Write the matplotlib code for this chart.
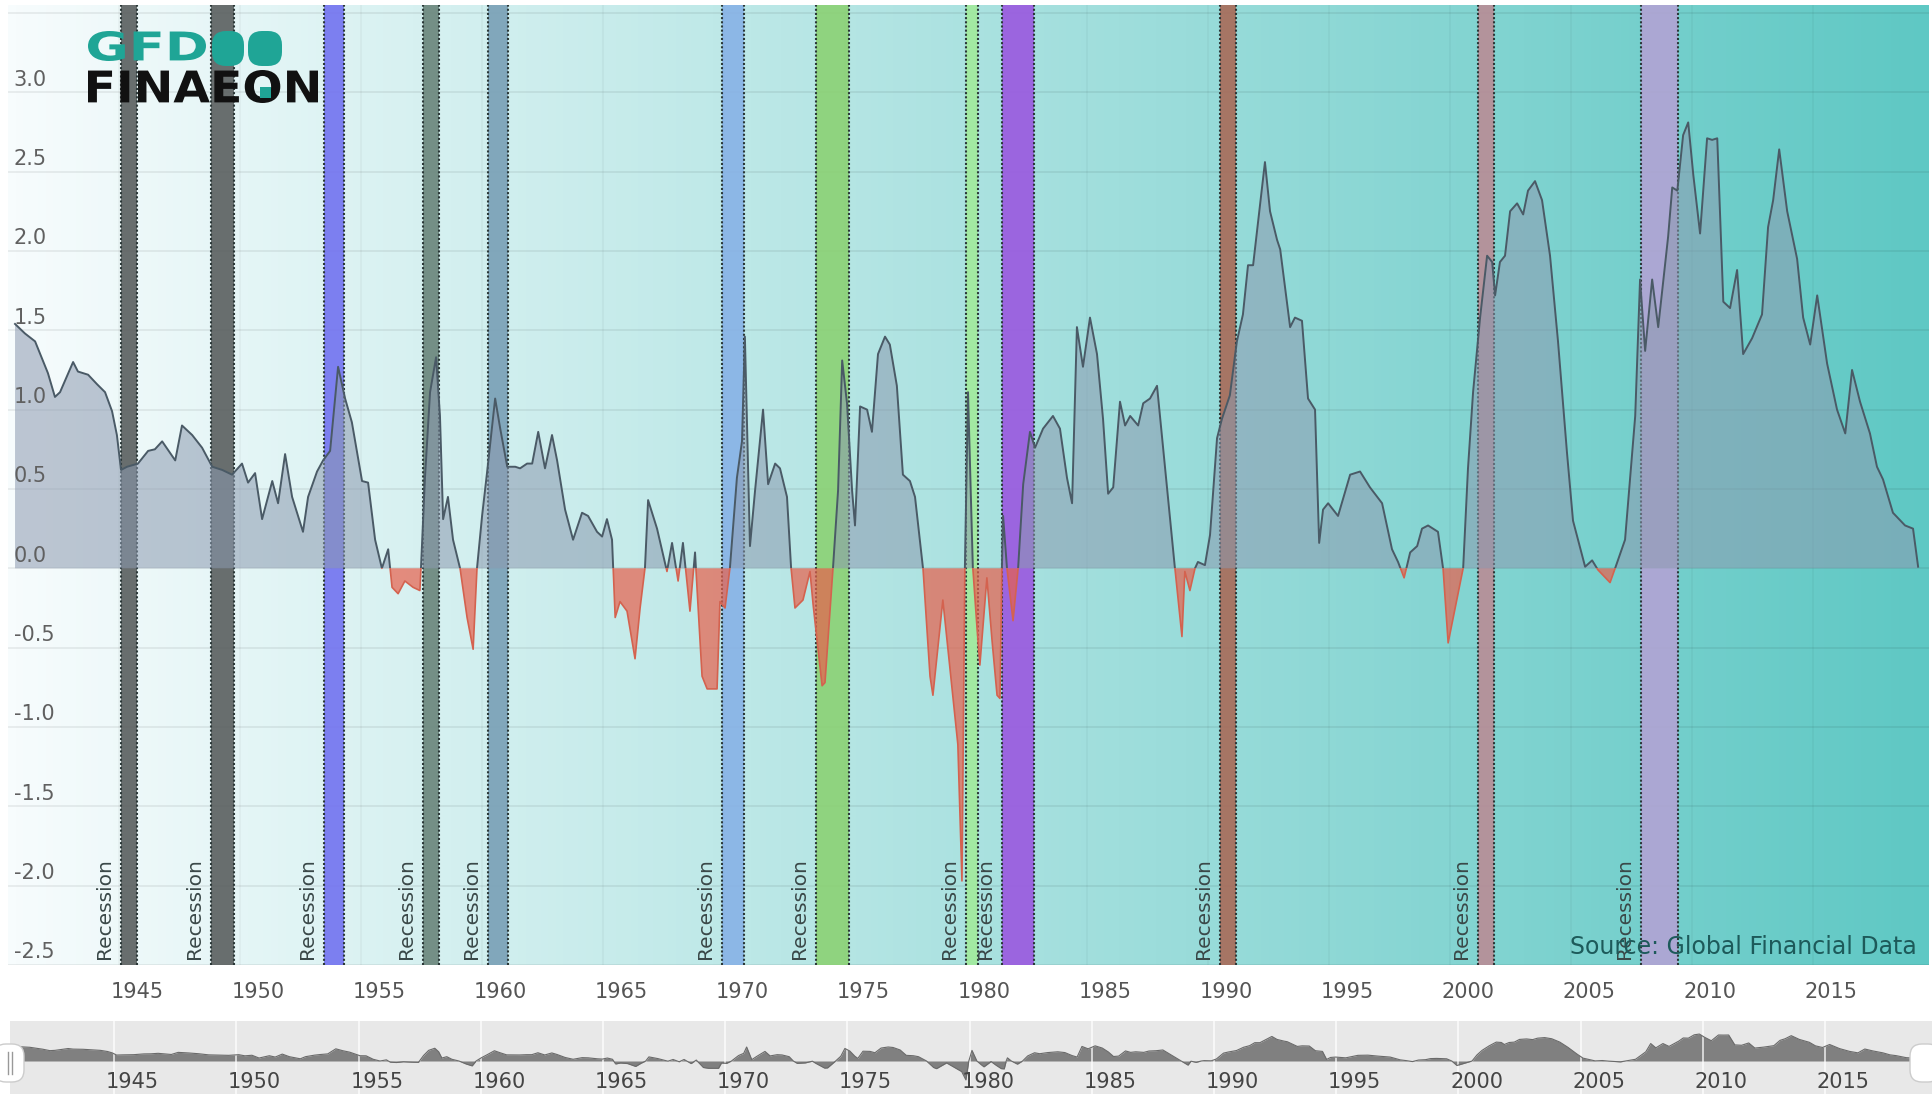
import numpy as np
import matplotlib.pyplot as plt
from matplotlib.colors import LinearSegmentedColormap
from matplotlib.patches import Rectangle, FancyBboxPatch, PathPatch
from matplotlib.textpath import TextPath
from matplotlib.font_manager import FontProperties
from matplotlib.transforms import Affine2D, blended_transform_factory

W, H = 1933, 1094
NARROW = ['Liberation Sans Narrow', 'DejaVu Sans']

# yield spread (decimal year, value)
years = [
    1940.72, 1941.13, 1941.55, 1942.08, 1942.37, 1942.58, 1943.12, 1943.32, 1943.74, 1944.11,
    1944.44, 1944.73, 1944.93, 1945.10, 1945.35, 1945.80, 1946.22, 1946.50, 1946.80, 1947.34,
    1947.62, 1948.04, 1948.45, 1948.87, 1949.28, 1949.69, 1950.10, 1950.35, 1950.64, 1950.93,
    1951.35, 1951.59, 1951.88, 1952.17, 1952.62, 1952.83, 1953.20, 1953.45, 1953.74, 1954.07,
    1954.36, 1954.64, 1955.06, 1955.31, 1955.60, 1955.88, 1956.14, 1956.30, 1956.55, 1956.83,
    1957.17, 1957.45, 1957.50, 1957.66, 1957.87, 1958.12, 1958.28, 1958.41, 1958.61, 1958.82,
    1959.11, 1959.40, 1959.65, 1959.81, 1960.02, 1960.23, 1960.56, 1960.77, 1961.06, 1961.39,
    1961.59, 1961.88, 1962.09, 1962.34, 1962.62, 1962.91, 1963.12, 1963.45, 1963.78, 1964.15,
    1964.40, 1964.77, 1964.98, 1965.18, 1965.39, 1965.52, 1965.72, 1966.01, 1966.34, 1966.55,
    1966.75, 1966.88, 1967.25, 1967.66, 1967.87, 1968.12, 1968.32, 1968.61, 1968.82, 1968.90,
    1969.11, 1969.32, 1969.73, 1969.85, 1970.06, 1970.26, 1970.55, 1970.76, 1970.88, 1971.09,
    1971.30, 1971.63, 1971.84, 1972.13, 1972.33, 1972.62, 1972.79, 1972.95, 1973.28, 1973.57,
    1973.70, 1974.07, 1974.19, 1974.52, 1974.73, 1974.90, 1975.10, 1975.31, 1975.43, 1975.64,
    1975.93, 1976.13, 1976.38, 1976.67, 1976.87, 1977.16, 1977.41, 1977.70, 1977.91, 1978.24,
    1978.53, 1978.65, 1979.06, 1979.48, 1979.68, 1979.85, 1979.97, 1980.10, 1980.30, 1980.47,
    1980.59, 1980.88, 1981.09, 1981.30, 1981.42, 1981.50, 1981.55, 1981.71, 1981.96, 1982.17,
    1982.38, 1982.66, 1982.87, 1983.20, 1983.61, 1983.90, 1984.19, 1984.40, 1984.60, 1984.85,
    1985.14, 1985.43, 1985.68, 1985.89, 1986.10, 1986.38, 1986.59, 1986.80, 1987.13, 1987.34,
    1987.62, 1987.91, 1988.24, 1988.65, 1988.94, 1989.06, 1989.27, 1989.48, 1989.60, 1989.89,
    1990.10, 1990.39, 1990.59, 1990.92, 1991.21, 1991.46, 1991.67, 1991.88, 1992.25, 1992.37,
    1992.58, 1992.87, 1993.00, 1993.41, 1993.61, 1993.90, 1994.15, 1994.44, 1994.61, 1994.77,
    1994.98, 1995.39, 1995.89, 1996.30, 1996.71, 1997.21, 1997.62, 1997.87, 1998.12, 1998.37,
    1998.66, 1998.86, 1999.11, 1999.52, 1999.73, 1999.94, 2000.56, 2000.76, 2000.97, 2001.26,
    2001.55, 2001.76, 2001.88, 2002.08, 2002.29, 2002.50, 2002.79, 2003.04, 2003.24, 2003.53,
    2003.82, 2004.15, 2004.48, 2004.85, 2005.10, 2005.60, 2005.89, 2006.13, 2006.63, 2006.84,
    2007.25, 2007.67, 2007.87, 2008.08, 2008.37, 2008.62, 2009.03, 2009.20, 2009.41, 2009.65,
    2009.86, 2010.07, 2010.35, 2010.64, 2010.85, 2011.06, 2011.31, 2011.59, 2011.88, 2012.13,
    2012.50, 2012.91, 2013.16, 2013.37, 2013.62, 2013.95, 2014.36, 2014.61, 2014.90, 2015.19,
    2015.60, 2016.01, 2016.35, 2016.63, 2016.96, 2017.37, 2017.66, 2017.91, 2018.32, 2018.82,
    2019.15, 2019.36,
]
spread = [
    1.54, 1.48, 1.43, 1.23, 1.08, 1.11, 1.30, 1.24, 1.22, 1.16,
    1.11, 0.99, 0.84, 0.62, 0.64, 0.66, 0.74, 0.75, 0.80, 0.68,
    0.90, 0.84, 0.76, 0.64, 0.62, 0.59, 0.66, 0.54, 0.60, 0.31,
    0.55, 0.41, 0.72, 0.45, 0.23, 0.45, 0.61, 0.68, 0.74, 1.27,
    1.07, 0.92, 0.55, 0.54, 0.18, 0.00, 0.12, -0.12, -0.16, -0.08,
    -0.12, -0.14, 0.02, 0.57, 1.11, 1.33, 0.96, 0.31, 0.45, 0.18,
    0.00, -0.31, -0.51, 0.00, 0.33, 0.61, 1.07, 0.88, 0.64, 0.64,
    0.63, 0.66, 0.66, 0.86, 0.63, 0.84, 0.68, 0.37, 0.18, 0.35,
    0.33, 0.23, 0.20, 0.31, 0.18, -0.31, -0.21, -0.27, -0.57, -0.25,
    0.00, 0.43, 0.25, -0.02, 0.16, -0.08, 0.16, -0.27, 0.10, -0.12,
    -0.68, -0.76, -0.76, -0.21, -0.25, 0.00, 0.57, 0.80, 1.46, 0.14,
    0.49, 1.00, 0.53, 0.66, 0.63, 0.45, 0.00, -0.25, -0.20, -0.02,
    -0.23, -0.74, -0.72, 0.00, 0.49, 1.31, 1.04, 0.49, 0.27, 1.02,
    1.00, 0.86, 1.35, 1.46, 1.41, 1.15, 0.59, 0.55, 0.45, 0.00,
    -0.68, -0.80, -0.20, -0.82, -1.11, -1.97, 0.00, 1.11, 0.00, -0.37,
    -0.61, -0.06, -0.45, -0.80, -0.82, 0.00, 0.33, 0.00, -0.33, 0.00,
    0.53, 0.86, 0.76, 0.88, 0.96, 0.88, 0.57, 0.41, 1.52, 1.27,
    1.58, 1.35, 0.94, 0.47, 0.51, 1.05, 0.90, 0.96, 0.90, 1.04,
    1.07, 1.15, 0.64, 0.00, -0.43, -0.02, -0.14, 0.00, 0.04, 0.02,
    0.21, 0.82, 0.94, 1.09, 1.43, 1.60, 1.91, 1.91, 2.40, 2.56,
    2.25, 2.07, 2.01, 1.52, 1.58, 1.56, 1.07, 1.00, 0.16, 0.37,
    0.41, 0.33, 0.59, 0.61, 0.51, 0.41, 0.12, 0.04, -0.06, 0.10,
    0.14, 0.25, 0.27, 0.23, 0.00, -0.47, 0.00, 0.63, 1.11, 1.58,
    1.97, 1.93, 1.72, 1.93, 1.97, 2.25, 2.30, 2.23, 2.38, 2.44,
    2.32, 1.97, 1.43, 0.73, 0.30, 0.01, 0.05, -0.01, -0.09, 0.00,
    0.18, 0.96, 1.82, 1.37, 1.82, 1.52, 2.09, 2.40, 2.38, 2.73,
    2.81, 2.48, 2.11, 2.71, 2.70, 2.71, 1.68, 1.64, 1.88, 1.35,
    1.45, 1.60, 2.15, 2.32, 2.64, 2.25, 1.95, 1.58, 1.41, 1.72,
    1.29, 1.00, 0.85, 1.25, 1.05, 0.85, 0.64, 0.56, 0.35, 0.27,
    0.25, 0.01,
]

rec_start = [1945.08, 1948.83, 1953.50, 1957.58, 1960.25, 1969.92,
             1973.83, 1980.00, 1981.50, 1990.50, 2001.17, 2007.92]
rec_end = [1945.75, 1949.75, 1954.33, 1958.25, 1961.08, 1970.83,
           1975.17, 1980.50, 1982.83, 1991.17, 2001.83, 2009.42]
rec_colors = ['#5a5f5f', '#5a5f5f', '#7272f0', '#6a857b', '#79a0b6', '#87b2e6',
              '#8bd174', '#a2eb9c', '#9a58e0', '#a86a58', '#b98c96', '#b2a3d4']

tick_years = [1945, 1950, 1955, 1960, 1965, 1970, 1975, 1980, 1985, 1990, 1995, 2000, 2005, 2010, 2015]
y_ticks = [-2.5, -2.0, -1.5, -1.0, -0.5, 0.0, 0.5, 1.0, 1.5, 2.0, 2.5, 3.0]

X0, X1 = 1940.43, 2019.81
Y0, Y1 = -2.5, 3.55

fig = plt.figure(figsize=(W / 100, H / 100), dpi=100)
fig.patch.set_facecolor('white')
px = Affine2D().scale(1 / W, 1 / H) + fig.transFigure

# main chart
ax = fig.add_axes([8 / W, 1 - 965 / H, 1921 / W, 960 / H])
bg = LinearSegmentedColormap.from_list('bg', ['#f7fcfd', '#5fc8c4'])
ax.imshow(np.linspace(0, 1, 256).reshape(1, -1), cmap=bg, aspect='auto',
          extent=[X0, X1, Y0, Y1], zorder=0)
ax.set_xlim(X0, X1)
ax.set_ylim(Y0, Y1)
ax.axis('off')

for yv in y_ticks + [3.5]:
    ax.axhline(yv, color='black', alpha=0.07, lw=1.3, zorder=0.5)
for yr in tick_years:
    ax.axvline(yr, color='black', alpha=0.04, lw=1.2, zorder=0.5)

for s, e, c in zip(rec_start, rec_end, rec_colors):
    ax.axvspan(s, e, color=c, alpha=0.9, lw=0, zorder=1)
    for edge in (s, e):
        ax.axvline(edge, color='#2b3838', ls=(0, (1, 1)), lw=1.5, zorder=1.5)
    ax.annotate('Recession', xy=(s, Y0), xytext=(-5, 4), textcoords='offset points',
                rotation=90, ha='right', va='bottom', fontsize=14.5,
                color='#3a4848', family='DejaVu Sans', zorder=5)

x = np.array(years)
v = np.array(spread)
ax.fill_between(x, v, 0, where=v >= 0, interpolate=True, color='#8c9ab0',
                alpha=0.55, lw=0, zorder=2)
ax.fill_between(x, v, 0, where=v <= 0, interpolate=True, color='#e8604c',
                alpha=0.7, lw=0, zorder=2)
pos_line, = ax.plot(x, v, color='#4a5a66', lw=1.4, zorder=3)
pos_line.set_clip_path(Rectangle((X0, 0), X1 - X0, Y1, transform=ax.transData))
neg_line, = ax.plot(x, v, color='#d4624f', lw=1.2, zorder=3)
neg_line.set_clip_path(Rectangle((X0, Y0), X1 - X0, -Y0, transform=ax.transData))

lab_tr = blended_transform_factory(ax.transAxes, ax.transData)
for yv in y_ticks:
    ax.annotate(f'{yv:.1f}', xy=(0.003, yv), xycoords=lab_tr, xytext=(0, 9),
                textcoords='offset points', ha='left', va='center', fontsize=15,
                color='#606060', family=NARROW, zorder=6)
for yr in tick_years:
    ax.annotate(str(yr), xy=(yr + 0.77, Y0), xytext=(0, -19.5), textcoords='offset points',
                ha='center', va='center', fontsize=15, color='#555555', family=NARROW,
                annotation_clip=False)

ax.text(0.9938, 0.006, 'Source: Global Financial Data', transform=ax.transAxes,
        ha='right', va='bottom', fontsize=17, color='#1d5a5a', family=NARROW, zorder=6)

# navigator strip
nav = fig.add_axes([10 / W, 0, 1923 / W, 73 / H])
nav.set_xlim(1940.74, 2019.42)
nav.set_ylim(-3.44, 4.17)
nav.set_facecolor('#e8e8e8')
nav.set_xticks([])
nav.set_yticks([])
for sp in nav.spines.values():
    sp.set_visible(False)
for yr in tick_years:
    nav.axvline(yr, color='white', lw=1.2, alpha=0.8)
nav.fill_between(x, v, 0, color='#808080', lw=0)
nav.plot(x, v, color='#6a6a6a', lw=0.8)
nav_tr = blended_transform_factory(nav.transData, nav.transAxes)
for yr in tick_years:
    nav.text(yr + 0.75, 0.16, str(yr), transform=nav_tr, ha='center', va='center',
             fontsize=15, color='#444444', family=NARROW)

for hx in (-6, 1910):
    fig.add_artist(FancyBboxPatch((hx, H - 1082), 30, 38, boxstyle='round,pad=0,rounding_size=12',
                                  transform=px, fc='white', ec='#cccccc', lw=1))
for lx in (8, 12):
    fig.add_artist(plt.Line2D([lx, lx], [H - 1074, H - 1052], transform=px, color='#999999', lw=1))

# logo
teal = '#1fa596'


def logo_text(s, x_left, y_top, w, h, color):
    tp = TextPath((0, 0), s, size=10, prop=FontProperties(family='DejaVu Sans', weight='bold'))
    bb = tp.get_extents()
    tr = Affine2D().translate(-bb.x0, -bb.y0).scale(w / bb.width, h / bb.height)
    tr = tr.translate(x_left, H - y_top - h)
    fig.add_artist(PathPatch(tr.transform_path(tp), transform=px, fc=color, lw=0))


logo_text('GFD', 88, 31, 118, 30, teal)
logo_text('FINAEON', 88, 70, 230, 33, '#111111')
fig.add_artist(FancyBboxPatch((212, H - 66), 32, 35, boxstyle='round,pad=0,rounding_size=14',
                              transform=px, fc=teal, lw=0))
fig.add_artist(FancyBboxPatch((248, H - 66), 34, 35, boxstyle='round,pad=0,rounding_size=14',
                              transform=px, fc=teal, lw=0))
fig.add_artist(Rectangle((260, H - 98), 11, 11, transform=px, fc=teal, lw=0))

fig.savefig('out.png', dpi=100, facecolor='white')
